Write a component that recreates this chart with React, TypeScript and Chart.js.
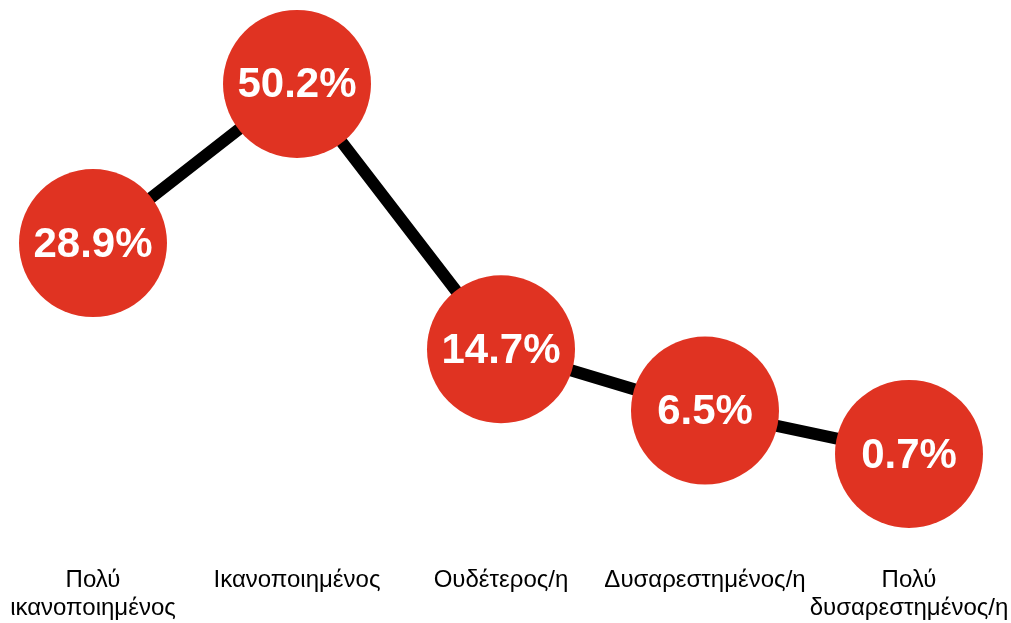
import React, { useEffect, useRef } from "react";
import { Chart, registerables } from "chart.js";

Chart.register(...registerables);

const categories: string[][] = [
  ["Πολύ", "ικανοποιημένος"],
  ["Ικανοποιημένος"],
  ["Ουδέτερος/η"],
  ["Δυσαρεστημένος/η"],
  ["Πολύ", "δυσαρεστημένος/η"],
];
const values: number[] = [28.9, 50.2, 14.7, 6.5, 0.7];

const RED = "#E03322";
const FONT = "'Liberation Sans', Arial, sans-serif";

const valueLabels = {
  id: "valueLabels",
  afterDatasetsDraw(chart: any) {
    const ctx = chart.ctx;
    const meta = chart.getDatasetMeta(0);
    ctx.save();
    ctx.fillStyle = "#ffffff";
    ctx.font = "bold 42px " + FONT;
    ctx.textAlign = "center";
    ctx.textBaseline = "middle";
    meta.data.forEach((pt: any, i: number) => {
      ctx.fillText(values[i].toFixed(1) + "%", pt.x, pt.y + 2);
    });
    ctx.restore();
  },
};

export default function App() {
  const ref = useRef<HTMLCanvasElement | null>(null);
  useEffect(() => {
    if (!ref.current) return;
    const chart = new Chart(ref.current, {
      type: "line",
      data: {
        labels: categories,
        datasets: [
          {
            data: values,
            borderColor: "#000000",
            borderWidth: 12,
            pointRadius: 74,
            pointHoverRadius: 74,
            pointBackgroundColor: RED,
            pointBorderWidth: 0,
            tension: 0,
            clip: false as any,
          },
        ],
      },
      options: {
        animation: false,
        responsive: false,
        maintainAspectRatio: false,
        layout: { autoPadding: false, padding: { top: 48, left: 93, right: 102, bottom: -1 } },
        plugins: { legend: { display: false }, tooltip: { enabled: false } },
        scales: {
          x: {
            offset: false,
            grid: { display: false, drawTicks: false },
            border: { display: false },
            ticks: {
              padding: 2,
              color: "#000000",
              maxRotation: 0,
              autoSkip: false,
              font: { family: FONT, size: 24, lineHeight: 1.17 },
            },
          },
          y: {
            display: false,
            min: -14,
            max: 55,
          },
        },
      },
      plugins: [valueLabels],
    });
    return () => chart.destroy();
  }, []);
  return (
    <div style={{ position: "fixed", left: 0, top: 0, width: 1011, height: 623, background: "#fff" }}>
      <canvas ref={ref} width={1011} height={623} style={{ width: 1011, height: 623 }} />
    </div>
  );
}
